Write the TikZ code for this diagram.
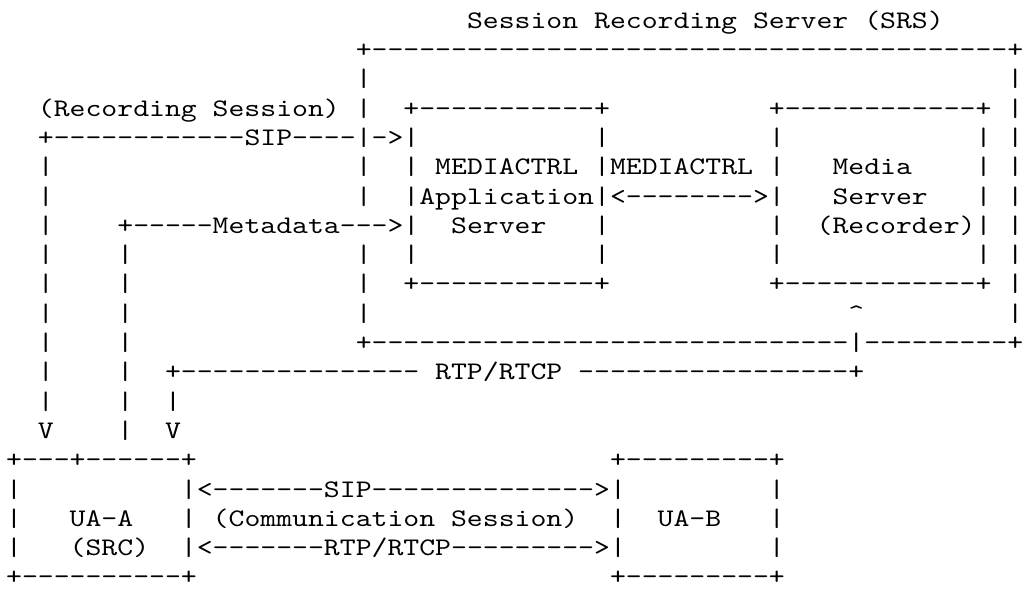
\documentclass[tikz,border=0pt]{standalone}
\usepackage{fontspec}
\setmonofont[FakeStretch=1.197]{lmmono10-regular.otf}

\begin{document}
\begin{tikzpicture}[x=1pt, y=1pt, ascii/.style={anchor=base west,
		inner sep=0pt, outer sep=0pt,
		font=\ttfamily\fontsize{9.5}{11}\selectfont}]
	\def \cw {5.97}
	\def \lh {11.007}
	\useasboundingbox (0,0) rectangle (385.05,-220.9);

	\foreach \col/\row/\txt in {
		29/1/{Session Recording Server (SRS)},
		22/2/{+----------------------------------------+},
		22/3/|, 63/3/|,
		2/4/{(Recording Session)}, 22/4/|, 25/4/{+-----------+}, 48/4/{+------------+}, 63/4/|,
		2/5/{+------------SIP----|->|}, 37/5/|, 48/5/|, 61/5/|, 63/5/|,
		2/6/|, 22/6/|, 25/6/|, 27/6/MEDIACTRL, 37/6/{|MEDIACTRL}, 48/6/|, 52/6/Media, 61/6/|, 63/6/|,
		2/7/|, 22/7/|, 25/7/{|Application|<-------->|}, 52/7/Server, 61/7/|, 63/7/|,
		2/8/|, 7/8/{+-----Metadata--->|}, 28/8/Server, 37/8/|, 48/8/|, 51/8/{(Recorder)|}, 63/8/|,
		2/9/|, 7/9/|, 22/9/|, 25/9/|, 37/9/|, 48/9/|, 61/9/|, 63/9/|,
		2/10/|, 7/10/|, 22/10/|, 25/10/{+-----------+}, 48/10/{+------------+}, 63/10/|,
		2/11/|, 7/11/|, 22/11/|, 53/11/\textasciicircum, 63/11/|,
		2/12/|, 7/12/|, 22/12/{+------------------------------|---------+},
		2/13/|, 7/13/|, 10/13/{+--------------- RTP/RTCP -----------------+},
		2/14/|, 7/14/|, 10/14/|,
		2/15/V, 7/15/|, 10/15/V,
		0/16/{+---+------+}, 38/16/{+---------+},
		0/17/|, 11/17/{|<-------SIP-------------->|}, 48/17/|,
		0/18/|, 4/18/UA-A, 11/18/|, 13/18/{(Communication Session)}, 38/18/|, 41/18/UA-B, 48/18/|,
		0/19/|, 4/19/{(SRC)}, 11/19/{|<-------RTP/RTCP--------->|}, 48/19/|,
		0/20/{+----------+}, 38/20/{+---------+}} {
		\node (a\col-\row) [ascii] at ({2.3+\col*\cw}, {-10.6-(\row-1)*\lh}) {\txt};
	};
\end{tikzpicture}
\end{document}
